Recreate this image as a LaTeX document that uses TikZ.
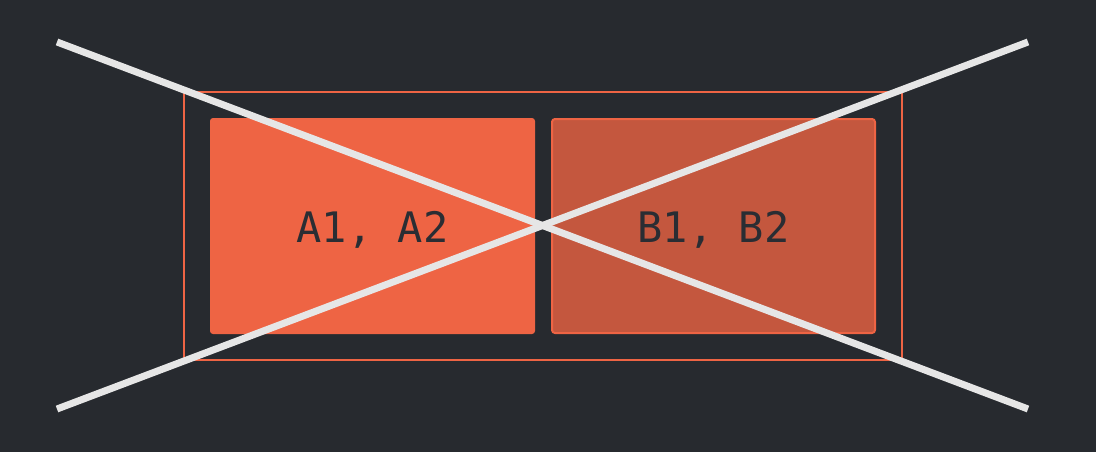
\documentclass[tikz,border=0pt]{standalone}
\usepackage{fontspec}
\newfontfamily\monof{DejaVu Sans Mono}
\definecolor{bg}{HTML}{272A2F}
\definecolor{orA}{HTML}{EE6444}
\definecolor{orB}{HTML}{C4573E}
\definecolor{txt}{HTML}{2A2D33}
\definecolor{crossc}{HTML}{E6E6E6}
\tikzset{
  box/.style={minimum width=325pt, minimum height=216pt, rounded corners=3pt, inner sep=0pt,
    font=\monof\fontsize{42pt}{42pt}\selectfont, text=txt},
  crossline/.style={draw=crossc, line width=7pt}
}
\begin{document}
\begin{tikzpicture}[x=1pt,y=-1pt]
\fill[bg] (0,0) rectangle (1096,452);
\useasboundingbox (0,0) rectangle (1096,452);
\node[draw=orA, line width=2.5pt, minimum width=718pt, minimum height=268pt, inner sep=0pt] (outer) at (543,226) {};
\node[box, fill=orA] (a) at (372.5,226) {};
\node[box, fill=orB, draw=orA, line width=2pt, minimum width=323pt, minimum height=214pt] (b) at (713.5,226) {};
\node[box, minimum width=0pt, minimum height=0pt] (at) at (372.5,229.5) {A1, A2};
\node[box, minimum width=0pt, minimum height=0pt] (bt) at (713.5,229.5) {B1, B2};
\coordinate (tl) at (57,42);
\coordinate (br) at (1028,409);
\coordinate (bl) at (57,409);
\coordinate (tr) at (1028,42);
\draw[crossline] (tl) -- (br);
\draw[crossline] (bl) -- (tr);
\end{tikzpicture}
\end{document}
